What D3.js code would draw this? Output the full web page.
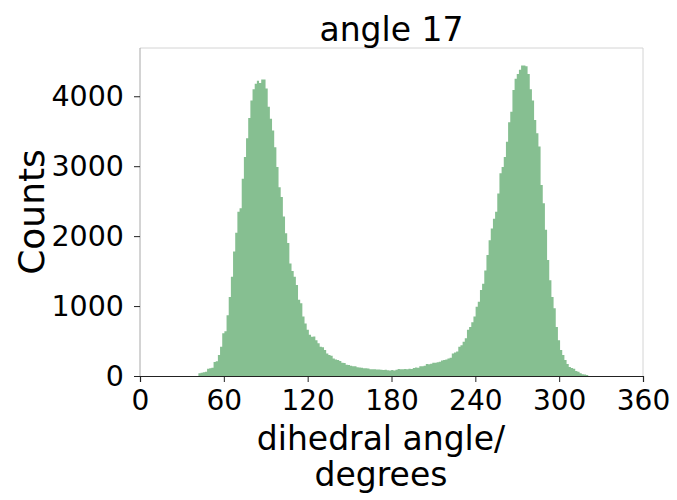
<!DOCTYPE html>
<html>
<head>
<meta charset="utf-8">
<script src="https://cdn.jsdelivr.net/npm/d3@7"></script>
<style>
  html, body { margin: 0; padding: 0; background: #fff; }
  text { font-family: "DejaVu Sans", sans-serif; fill: #000; }
</style>
</head>
<body>
<div id="chart"></div>
<script>
// histogram of dihedral angle 17, fixed-width bins starting at binStart
const binStart = 41.8;
const binWidth = 1.55;
const counts = [
  40, 48, 52, 60, 105, 110, 118, 200, 210, 300,
  420, 610, 640, 870, 1130, 1420, 1780, 2050, 2350, 2400,
  2820, 3130, 3400, 3690, 3940, 4100, 4180, 4220, 4190, 4240,
  4240, 4110, 3850, 3680, 3510, 3270, 2990, 2700, 2560, 2280,
  2040, 1900, 1610, 1500, 1420, 1300, 1090, 1040, 850, 750,
  660, 590, 560, 565, 510, 470, 420, 410, 370, 320,
  300, 290, 250, 235, 230, 215, 190, 185, 160, 158,
  145, 140, 138, 125, 120, 118, 110, 112, 108, 98,
  95, 96, 92, 94, 90, 86, 88, 84, 80, 86,
  78, 88, 100, 96, 98, 100, 97, 102, 100, 115,
  120, 118, 140, 138, 145, 170, 168, 175, 190, 188,
  195, 205, 220, 228, 235, 250, 262, 320, 335, 350,
  420, 440, 490, 540, 660, 700, 770, 850, 990, 1060,
  1230, 1320, 1510, 1730, 1940, 2110, 2250, 2350, 2610, 2900,
  2990, 3130, 3350, 3630, 3780, 4090, 4250, 4320, 4380, 4440,
  4440, 4430, 4320, 4100, 3940, 3660, 3470, 3280, 2730, 2470,
  2090, 1660, 1370, 1130, 970, 700, 510, 370, 300, 230,
  170, 130, 115, 105, 70, 60, 40, 25, 20, 15
];
const xTicks = [0, 60, 120, 180, 240, 300, 360];
const yTicks = [0, 1000, 2000, 3000, 4000];

const width = 677, height = 500;
const plot = { left: 140, right: 643, top: 48, bottom: 376 };

const svg = d3.select("#chart").append("svg")
  .attr("width", width)
  .attr("height", height);

const x = d3.scaleLinear().domain([0, 360]).range([plot.left, plot.right]);
const y = d3.scaleLinear().domain([0, 4690]).range([plot.bottom, plot.top]);

const bins = counts.map((c, i) => ({
  x0: binStart + i * binWidth,
  x1: binStart + (i + 1) * binWidth,
  count: c
}));

// bars as one stepped outline so neighbouring bins don't leave seams
const step = d3.area()
  .curve(d3.curveStepAfter)
  .x(d => x(d.x))
  .y0(y(0))
  .y1(d => y(d.count));

const stepPoints = bins.map(b => ({ x: b.x0, count: b.count }));
stepPoints.push({ x: bins[bins.length - 1].x1, count: bins[bins.length - 1].count });

svg.append("path")
  .datum(stepPoints)
  .attr("d", step)
  .attr("fill", "#86bf91");

// frame
svg.append("line").attr("x1", plot.left).attr("x2", plot.right).attr("y1", plot.top).attr("y2", plot.top)
  .attr("stroke", "#d4d4d4").attr("stroke-width", 1);
svg.append("line").attr("x1", plot.right).attr("x2", plot.right).attr("y1", plot.top).attr("y2", plot.bottom)
  .attr("stroke", "#d4d4d4").attr("stroke-width", 1);
svg.append("line").attr("x1", plot.left).attr("x2", plot.left).attr("y1", plot.top).attr("y2", plot.bottom)
  .attr("stroke", "#a8a8a8").attr("stroke-width", 1);

// x axis
const xAxis = svg.append("g")
  .attr("transform", `translate(0,${plot.bottom})`)
  .call(d3.axisBottom(x).tickValues(xTicks).tickFormat(d3.format("d")).tickSize(6).tickPadding(8));
xAxis.select(".domain").attr("stroke", "#222").attr("stroke-width", 1.2);
xAxis.selectAll(".tick line").attr("stroke", "#222");
xAxis.selectAll(".tick text").attr("font-size", 28).attr("fill", "#000")
  .attr("font-family", "DejaVu Sans");

// y axis
const yAxis = svg.append("g")
  .attr("transform", `translate(${plot.left},0)`)
  .call(d3.axisLeft(y).tickValues(yTicks).tickFormat(d3.format("d")).tickSize(6).tickPadding(10));
yAxis.select(".domain").remove();
yAxis.selectAll(".tick line").attr("stroke", "#222");
yAxis.selectAll(".tick text").attr("font-size", 28.5).attr("fill", "#000")
  .attr("font-family", "DejaVu Sans");

// title and axis labels
svg.append("text")
  .attr("x", (plot.left + plot.right) / 2)
  .attr("y", 41)
  .attr("text-anchor", "middle")
  .attr("font-size", 33)
  .text("angle 17");

const xLabelX = 381;
svg.append("text")
  .attr("x", xLabelX)
  .attr("y", 450)
  .attr("text-anchor", "middle")
  .attr("font-size", 33)
  .text("dihedral angle/");

svg.append("text")
  .attr("x", xLabelX)
  .attr("y", 486)
  .attr("text-anchor", "middle")
  .attr("font-size", 33)
  .text("degrees");

svg.append("text")
  .attr("transform", `translate(44,${(plot.top + plot.bottom) / 2}) rotate(-90)`)
  .attr("text-anchor", "middle")
  .attr("font-size", 36)
  .text("Counts");
</script>
</body>
</html>
